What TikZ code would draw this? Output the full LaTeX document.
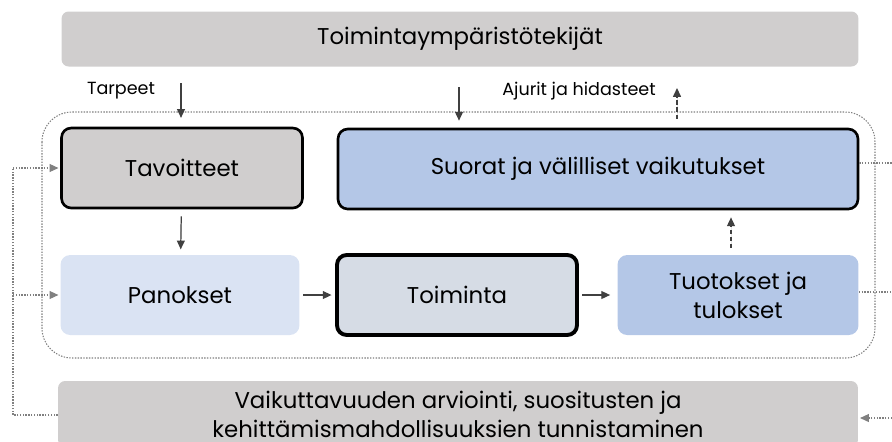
\documentclass[tikz,border=0pt]{standalone}
\usepackage{fontspec}
\setmainfont{Poppins}
\usetikzlibrary{arrows.meta,calc}
\newcommand{\ArrTip}{Triangle[length=5pt,width=4.5pt]}
\definecolor{grayfill}{HTML}{D0CECE}
\definecolor{bluedark}{HTML}{B4C7E7}
\definecolor{bluelight}{HTML}{DAE3F3}
\definecolor{bluegray}{HTML}{D6DCE5}
\definecolor{arrgray}{HTML}{404040}
\tikzset{box/.style={rounded corners=5.5pt,minimum height=1.6cm,minimum width=4.82cm,align=center,inner sep=0,font=\fontsize{13}{16.5}\selectfont},
  thickbox/.style={box,draw=black,line width=1.5pt},
  lbl/.style={font=\fontsize{10}{12}\selectfont,inner sep=0},
  arr/.style={-{\ArrTip},draw=arrgray,fill=arrgray,line width=.7pt},
  dasharr/.style={arr,dash pattern=on 2.5pt off 1.5pt},
  fb/.style={draw=gray,line width=.6pt,dash pattern=on .8pt off .8pt}}
\begin{document}
\begin{tikzpicture}[x=.02cm,y=-.02cm]
\useasboundingbox(0,0)rectangle(892,441);
\node[box,fill=grayfill,minimum width=15.94cm,minimum height=1.1cm,rounded corners=4pt](env)at(460,39){Toimintaympäristötekijät};
\node[box,fill=grayfill,minimum width=16cm,minimum height=1.32cm,rounded corners=4pt](arv)at(458,414){Vaikuttavuuden arviointi, suositusten ja\\kehittämismahdollisuuksien tunnistaminen};
\draw[fb,rounded corners=17pt](42,112)rectangle(875,358);
\node[thickbox,fill=grayfill](tav)at(182,168){Tavoitteet};
\node[thickbox,fill=bluedark,minimum width=10.4cm](vaik)at(598,169){Suorat ja välilliset vaikutukset};
\node[box,fill=bluelight,minimum width=4.78cm](pan)at(180,295){Panokset};
\node[box,fill=bluegray,draw=black,line width=2.2pt,minimum width=4.8cm](toim)at(457,295){Toiminta};
\node[box,fill=bluedark](tuot)at(738,295){Tuotokset ja\\tulokset};
\node[lbl](tarp)at(121,91){Tarpeet};
\node[lbl](ajur)at(579,91){Ajurit ja hidasteet};
% syotteet ylhaalta
\coordinate(tin)at(181,83);\coordinate(ain)at(459,87);\coordinate(aout)at(677,88);
\draw[arr,shorten >=5pt](tin)--(tin|-tav.north);
\draw[arr,shorten >=4pt](ain)--(ain|-vaik.north);
\draw[dasharr,shorten <=5pt](aout|-vaik.north)--(aout);
% ketju
\draw[arr,shorten <=4pt,shorten >=3pt](tav)--(pan);
\draw[arr,shorten <=2pt,shorten >=2pt](pan)--(toim);
\draw[arr,shorten <=2pt,shorten >=4pt](toim)--(tuot);
\coordinate(tq)at(731,255);
\draw[dasharr,shorten <=4pt,shorten >=4pt](tq)--(tq|-vaik.south);
% palaute
\coordinate(lb)at(13,415);\coordinate(rt)at(892,163);\coordinate(rm)at(892,292);\coordinate(rb)at(892,418);
\draw[fb](arv.west|-lb)--(lb)--(lb|-tav.west);
\draw[fb,-{\ArrTip},shorten >=1pt](lb|-tav.west)--(tav.west);
\draw[fb,-{\ArrTip},shorten >=1pt](lb|-pan.west)--(pan.west);
\draw[fb](vaik.east|-rt)--(rt);\draw[fb](tuot.east|-rm)--(rm);
\draw[fb,-{\ArrTip},shorten >=1pt](rb)--(arv.east|-rb);
\end{tikzpicture}
\end{document}
